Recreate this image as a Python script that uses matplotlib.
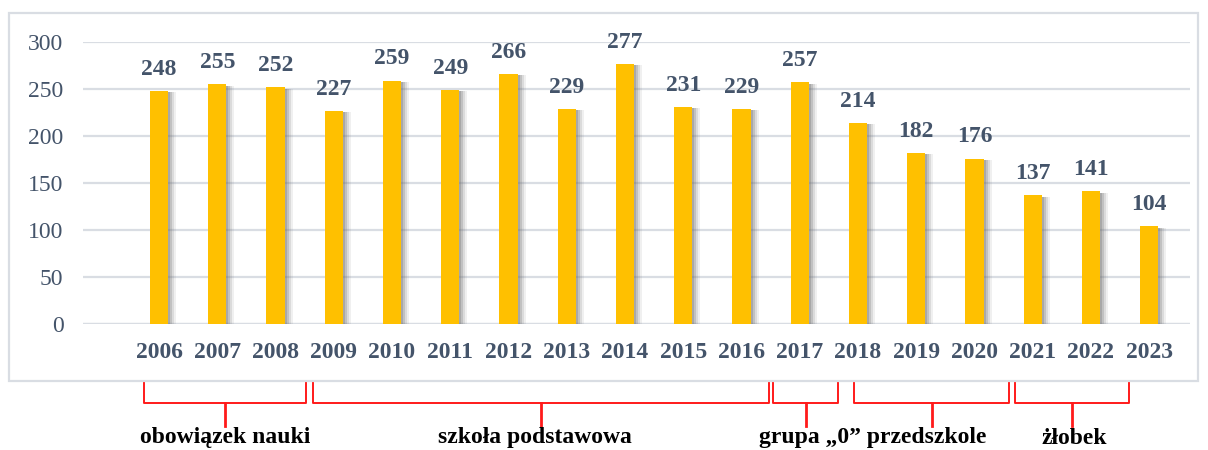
"""
Liczba dzieci wg roku (2006-2023) z oznaczeniem grup instytucji.
Output: out.png
"""
import matplotlib
matplotlib.use("Agg")
import matplotlib.pyplot as plt
from matplotlib.patches import Rectangle
from matplotlib.transforms import blended_transform_factory

years = ["2006", "2007", "2008", "2009", "2010", "2011", "2012", "2013", "2014",
         "2015", "2016", "2017", "2018", "2019", "2020", "2021", "2022", "2023"]
values = [248, 255, 252, 227, 259, 249, 266, 229, 277,
          231, 229, 257, 214, 182, 176, 137, 141, 104]
yticks = [0, 50, 100, 150, 200, 250, 300]

# bracket spans in category units (index of year) and labels under them
brackets = [(-0.26, 2.52), (2.64, 10.47), (10.54, 11.66), (11.93, 14.60), (14.70, 16.65)]
group_labels = ["obowiązek nauki", "szkoła podstawowa", "grupa \u201e0\u201d przedszkole", "żłobek"]
group_label_x = [1.13, 6.46, 12.26, 15.71]

BAR = "#FFC000"
SLATE = "#44546A"
GRID = "#D9DDE3"
RED = "#FF1A1A"

plt.rcParams["font.family"] = ["Liberation Serif", "DejaVu Serif"]

fig = plt.figure(figsize=(12.08, 4.5), dpi=100)
ax = fig.add_axes([83 / 1208, 1 - 324 / 450, (1190 - 83) / 1208, (324 - 42) / 450])

x = list(range(len(years)))
px = 1 / 58.24  # one pixel in category units
# soft shadow to the right of each bar
for off, a in [(8, 0.10), (6, 0.16), (4, 0.24), (2, 0.30)]:
    ax.bar([i + off * px for i in x], [v - 1.5 for v in values], width=0.31,
           color="#6F6F6F", alpha=a, zorder=2, linewidth=0)
ax.bar(x, values, width=0.31, color=BAR, zorder=3, linewidth=0)

for i, v in zip(x, values):
    ax.annotate(str(v), (i, v), xytext=(0, 8), textcoords="offset points",
                ha="center", va="bottom", fontsize=17, fontweight="bold", color=SLATE)

ax.set_ylim(0, 300)
ax.set_xlim(-1.305, 17.70)
ax.set_yticks(yticks)
ax.set_yticklabels([str(t) for t in yticks], fontsize=17, color=SLATE)
ax.set_xticks(x)
ax.set_xticklabels(years, fontsize=17, fontweight="bold", color=SLATE)
ax.tick_params(axis="y", length=0, pad=14)
ax.tick_params(axis="x", length=0, pad=13)
ax.grid(axis="y", color=GRID, linewidth=1.6, zorder=0)
ax.set_axisbelow(True)
for s in ax.spines.values():
    s.set_visible(False)
ax.axhline(0, color=GRID, linewidth=1.6, zorder=1)

# outer chart frame
fig.patches.append(Rectangle((9 / 1208, 1 - 381 / 450), (1198 - 9) / 1208, (381 - 13) / 450,
                             transform=fig.transFigure, fill=False, edgecolor=GRID, linewidth=1.6))

# title line cut off at the top of the image (as in the source)
fig.text(10 / 1208, 1 - 4 / 450, "2023/2024 r.", fontsize=16, color="black", va="bottom")

# brackets under the chart
tr = blended_transform_factory(ax.transData, fig.transFigure)
y_top, y_mid, y_stem = 1 - 383 / 450, 1 - 403 / 450, 1 - 426 / 450
for l, r in brackets:
    ax.plot([l, l, r, r], [y_top, y_mid, y_mid, y_top], color=RED, lw=1.4,
            transform=tr, clip_on=False)
    m = (l + r) / 2
    ax.plot([m, m], [y_mid, y_stem], color=RED, lw=2, transform=tr, clip_on=False)

for lab, lx in zip(group_labels, group_label_x):
    ax.text(lx, 1 - 438 / 450, lab, transform=tr, ha="center", va="center",
            fontsize=17, fontweight="bold", color="black")

fig.savefig("out.png", dpi=100)
